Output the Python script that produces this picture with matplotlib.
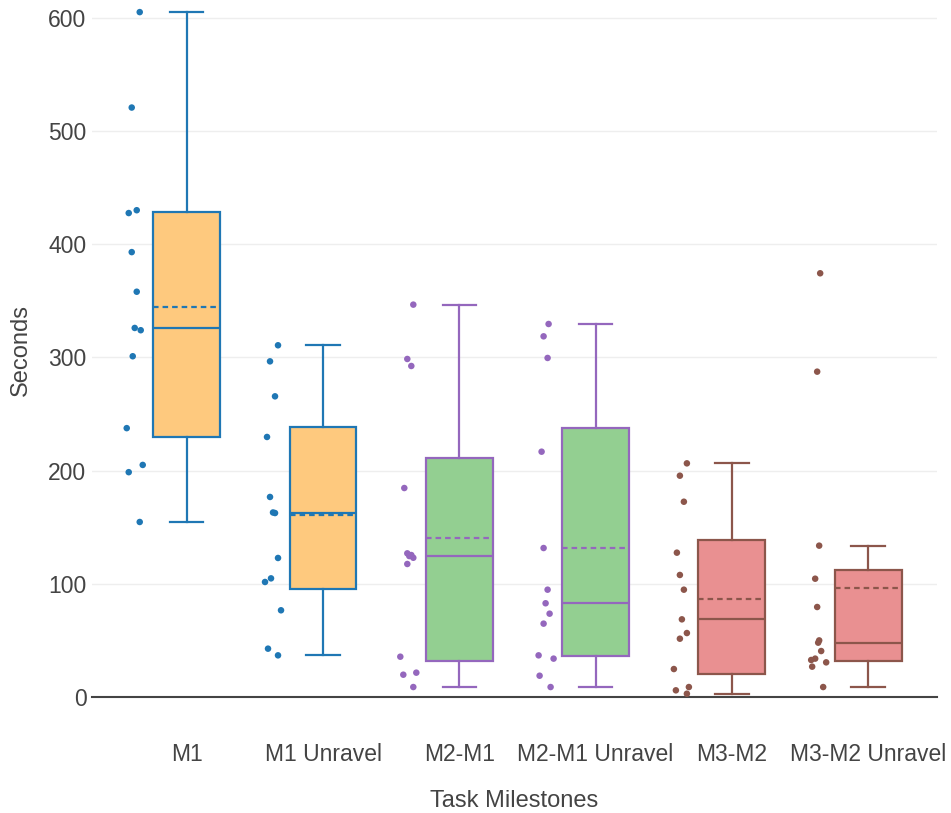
import numpy as np
import matplotlib
matplotlib.use("Agg")
import matplotlib.pyplot as plt

plt.rcParams['font.family'] = ['Liberation Sans', 'DejaVu Sans']

categories = ["M1", "M1 Unravel", "M2-M1", "M2-M1 Unravel", "M3-M2", "M3-M2 Unravel"]

# seconds per participant
m1 = [605, 520.7, 427.5, 430, 393, 358, 326, 324, 301, 237.5, 205, 198.6, 154.6]
m1_unravel = [310.7, 296.5, 265.6, 229.7, 176.7, 163, 162.5, 122.8, 104.8, 101.6, 76.6, 42.7, 36.8]
m2_m1 = [346.6, 298.6, 292.4, 184.6, 126.9, 125.4, 124.5, 123, 117.5, 35.6, 21.5, 19.7, 8.8]
m2_m1_unravel = [329.5, 318.6, 299.5, 216.7, 131.6, 94.8, 82.8, 73.6, 64.8, 36.8, 33.9, 18.8, 8.8]
m3_m2 = [206.4, 195.5, 172.5, 127.5, 107.8, 94.8, 68.6, 56.5, 51.5, 24.7, 8.8, 5.9, 2.9]
m3_m2_unravel = [374.3, 287.4, 133.7, 104.5, 79.5, 50, 48, 40.6, 33.9, 32.7, 30.6, 26.8, 8.8]

# horizontal jitter of each point (pixels left of the box centre)
m1_jitter = [-47, -55, -58, -50, -55, -50, -52, -46, -54, -60, -44, -58, -47]
m1_unravel_jitter = [-45, -53, -48, -56, -53, -50, -48, -45, -52, -58, -42, -55, -45]
m2_m1_jitter = [-46, -52, -48, -55, -52, -48, -50, -46, -52, -59, -43, -56, -46]
m2_m1_unravel_jitter = [-47, -52, -48, -54, -52, -48, -50, -46, -52, -57, -42, -56, -45]
m3_m2_jitter = [-45, -52, -48, -55, -52, -48, -50, -45, -52, -58, -43, -56, -45]
m3_m2_unravel_jitter = [-48, -51, -49, -53, -51, -49, -50, -47, -53, -57, -42, -56, -45]

data = [m1, m1_unravel, m2_m1, m2_m1_unravel, m3_m2, m3_m2_unravel]
jitters = [m1_jitter, m1_unravel_jitter, m2_m1_jitter, m2_m1_unravel_jitter,
           m3_m2_jitter, m3_m2_unravel_jitter]

line_colors = ['#1f77b4', '#1f77b4', '#9467bd', '#9467bd', '#8c564b', '#8c564b']
fill_colors = ['#fec97e', '#fec97e', '#93cf91', '#93cf91', '#e99091', '#e99091']


def box_stats(vals):
  v = np.array(vals)
  q1, med, q3 = np.percentile(v, [25, 50, 75], method='hazen')
  iqr = q3 - q1
  lo = v[v >= q1 - 1.5 * iqr].min()
  hi = v[v <= q3 + 1.5 * iqr].max()
  return dict(med=med, q1=q1, q3=q3, whislo=lo, whishi=hi, mean=v.mean(), fliers=[])


W, H = 951, 813
fig = plt.figure(figsize=(W / 100, H / 100), dpi=100)
ax = fig.add_axes([92 / W, 1 - 697 / H, 845 / W, 697 / H])

px_per_cat = 136.3
for i, vals in enumerate(data):
  lc = line_colors[i]
  ax.bxp([box_stats(vals)], positions=[i], widths=0.49, capwidths=0.245,
         patch_artist=True, showmeans=True, meanline=True, showfliers=False,
         boxprops=dict(facecolor=fill_colors[i], edgecolor=lc, linewidth=1.6),
         medianprops=dict(color=lc, linewidth=1.6),
         meanprops=dict(color=lc, linewidth=1.6, linestyle=(0, (2.5, 1.8))),
         whiskerprops=dict(color=lc, linewidth=1.6),
         capprops=dict(color=lc, linewidth=1.6))
  xs = [i + j / px_per_cat for j in jitters[i]]
  ax.scatter(xs, vals, s=22, color=lc, edgecolors='none', zorder=4, clip_on=False)

ax.set_xlim(-0.695, 5.505)
ax.set_ylim(0, 615.7)
ax.set_yticks(range(0, 601, 100))
ax.set_xticks(range(len(categories)))
ax.set_xticklabels(categories)
ax.tick_params(axis='both', length=0, labelsize=16.5, labelcolor='#444444')
ax.tick_params(axis='y', pad=4)
ax.tick_params(axis='x', pad=33)
ax.grid(axis='y', color='#eeeeee', linewidth=1)
ax.set_axisbelow(True)
for s in ax.spines.values():
  s.set_visible(False)
ax.axhline(0, color='#444444', linewidth=1.5, clip_on=False, zorder=1)

fig.text(514.5 / W, 1 - 801 / H, 'Task Milestones', ha='center', va='center',
         fontsize=17, color='#444444')
fig.text(21 / W, 1 - 350 / H, 'Seconds', ha='center', va='center', rotation=90,
         fontsize=17, color='#444444')

fig.savefig('out.png', dpi=100)
